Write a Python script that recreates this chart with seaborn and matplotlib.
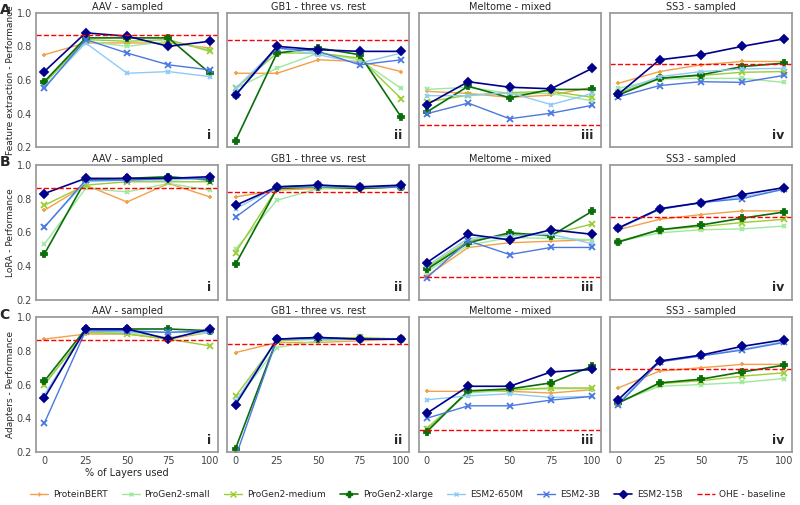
import numpy as np
import pandas as pd
import matplotlib
matplotlib.use("Agg")
import matplotlib.pyplot as plt
import seaborn as sns
from matplotlib.lines import Line2D

sns.set_theme(style="white")
plt.rcParams['font.family'] = ['DejaVu Sans']

layers = [0, 25, 50, 75, 100]
models = ["ProteinBERT", "ProGen2-small", "ProGen2-medium", "ProGen2-xlarge",
          "ESM2-650M", "ESM2-3B", "ESM2-15B"]
datasets = ["AAV - sampled", "GB1 - three vs. rest", "Meltome - mixed", "SS3 - sampled"]
methods = ["Feature extraction", "LoRA", "Adapters"]
row_letters = ["A", "B", "C"]
panel_ids = ["i", "ii", "iii", "iv"]
ohe = [0.865, 0.84, 0.333, 0.693]

fe_aav = [[.75,.82,.82,.82,.79],[.58,.83,.80,.83,.78],[.58,.84,.83,.84,.77],[.59,.85,.85,.85,.64],
          [.56,.82,.64,.65,.62],[.55,.84,.76,.69,.66],[.65,.88,.86,.80,.83]]
fe_gb1 = [[.64,.64,.72,.71,.65],[.55,.67,.76,.72,.55],[.55,.76,.76,.73,.49],[.24,.76,.79,.75,.38],
          [.55,.79,.75,.70,.76],[.51,.79,.77,.69,.72],[.51,.80,.78,.77,.77]]
fe_mel = [[.533,.52,.497,.51,.557],[.544,.557,.52,.52,.476],[.47,.51,.525,.533,.497],[.41,.563,.495,.544,.544],
          [.507,.507,.525,.454,.52],[.40,.463,.37,.403,.45],[.454,.59,.557,.548,.67]]
fe_ss3 = [[.58,.65,.69,.71,.71],[.55,.605,.61,.61,.586],[.52,.61,.627,.646,.65],[.51,.61,.63,.68,.70],
          [.53,.62,.65,.665,.67],[.50,.567,.59,.586,.627],[.514,.72,.75,.80,.844]]
lo_aav = [[.73,.88,.78,.89,.81],[.53,.86,.84,.89,.85],[.76,.88,.90,.90,.90],[.47,.91,.92,.93,.91],
          [.63,.90,.91,.91,.92],[.63,.91,.91,.92,.92],[.83,.92,.92,.92,.93]]
lo_gb1 = [[.81,.85,.86,.86,.87],[.50,.79,.86,.86,.87],[.48,.86,.87,.87,.87],[.41,.86,.87,.86,.87],
          [.74,.87,.87,.87,.87],[.69,.87,.88,.87,.87],[.76,.87,.88,.87,.88]]
lo_mel = [[.34,.51,.538,.547,.556],[.366,.523,.569,.564,.556],[.39,.55,.588,.588,.65],[.38,.538,.597,.579,.726],
          [.40,.564,.579,.588,.532],[.33,.55,.468,.51,.51],[.42,.588,.555,.615,.588]]
lo_ss3 = [[.615,.677,.705,.727,.727],[.545,.597,.615,.62,.637],[.545,.615,.634,.658,.677],[.542,.615,.643,.684,.72],
          [.62,.735,.775,.81,.855],[.625,.737,.776,.80,.856],[.625,.74,.776,.824,.865]]
ad_aav = [[.87,.90,.90,.87,.91],[.60,.91,.91,.88,.91],[.60,.91,.90,.87,.83],[.62,.93,.93,.93,.92],
          [.54,.92,.91,.91,.91],[.37,.92,.92,.91,.92],[.52,.93,.93,.87,.93]]
ad_gb1 = [[.79,.85,.85,.86,.87],[.50,.82,.86,.87,.87],[.53,.86,.87,.88,.87],[.22,.87,.87,.87,.87],
          [.50,.87,.87,.87,.87],[.17,.87,.88,.87,.87],[.48,.87,.88,.87,.87]]
ad_mel = [[.56,.56,.56,.55,.57],[.345,.55,.567,.576,.576],[.335,.56,.57,.58,.58],[.32,.563,.574,.61,.71],
          [.51,.533,.545,.524,.53],[.40,.474,.474,.508,.53],[.43,.59,.59,.675,.69]]
ad_ss3 = [[.58,.68,.70,.72,.72],[.496,.59,.60,.613,.636],[.49,.605,.623,.65,.67],[.49,.61,.632,.675,.715],
          [.49,.735,.77,.81,.855],[.48,.735,.77,.805,.85],[.51,.74,.775,.827,.866]]

values = [[fe_aav, fe_gb1, fe_mel, fe_ss3],
          [lo_aav, lo_gb1, lo_mel, lo_ss3],
          [ad_aav, ad_gb1, ad_mel, ad_ss3]]

colors = ["#f4a04a", "#9ee89e", "#9acd32", "#0a6e0a", "#8fcaf5", "#4a78e0", "#00008b"]
markers = ["+", "x", "x", "P", "x", "x", "D"]
msizes = [3, 3, 4, 5, 3, 4, 4]
lws = [1.0, 1.0, 1.0, 1.2, 1.0, 1.0, 1.2]

fig, axes = plt.subplots(3, 4, figsize=(8, 5.05), dpi=100, sharey=True)
fig.subplots_adjust(left=0.045, right=0.99, top=0.975, bottom=0.105, wspace=0.05, hspace=0.13)

for r in range(3):
    for c in range(4):
        ax = axes[r, c]
        for m in range(7):
            df = pd.DataFrame({"x": layers, "y": values[r][c][m]})
            sns.lineplot(data=df, x="x", y="y", ax=ax, color=colors[m], marker=markers[m],
                         markersize=msizes[m], linewidth=lws[m], markeredgecolor=colors[m],
                         markeredgewidth=1.3)
        ax.axhline(ohe[c], color="red", linestyle="--", linewidth=1)
        ax.set_ylim(0.2, 1.0)
        ax.set_xlim(-5, 105)
        ax.set_title(datasets[c], fontsize=7, pad=2)
        ax.set_xlabel("")
        ax.set_ylabel("")
        for s in ax.spines.values():
            s.set_color("#999999")
        ax.tick_params(axis="both", labelsize=7, length=2, pad=1, colors="#444444")
        ax.set_yticks([0.2, 0.4, 0.6, 0.8, 1.0])
        ax.set_xticks(layers)
        if r < 2:
            ax.tick_params(axis="x", labelbottom=False)
        ax.text(0.96, 0.04, panel_ids[c], transform=ax.transAxes, ha="right", va="bottom",
                fontsize=9, fontweight="bold")
    axes[r, 0].set_ylabel(f"{methods[r]} - Performance", fontsize=6.5, labelpad=1)
    axes[r, 0].text(-0.2, 1.02, row_letters[r], transform=axes[r, 0].transAxes, fontsize=10,
                    fontweight="bold", ha="left", va="center")
axes[2, 0].set_xlabel("% of Layers used", fontsize=7, labelpad=1)

handles = [Line2D([], [], color=colors[m], marker=markers[m], markersize=msizes[m],
                  linewidth=lws[m]) for m in range(7)]
handles.append(Line2D([], [], color="red", linestyle="--", linewidth=1))
labels = models + ["OHE - baseline"]
fig.legend(handles, labels, loc="lower center", ncol=8, fontsize=6.5, frameon=False,
           bbox_to_anchor=(0.51, -0.005), handlelength=2.0, columnspacing=1.6, handletextpad=0.5)

fig.savefig("out.png", dpi=100)
